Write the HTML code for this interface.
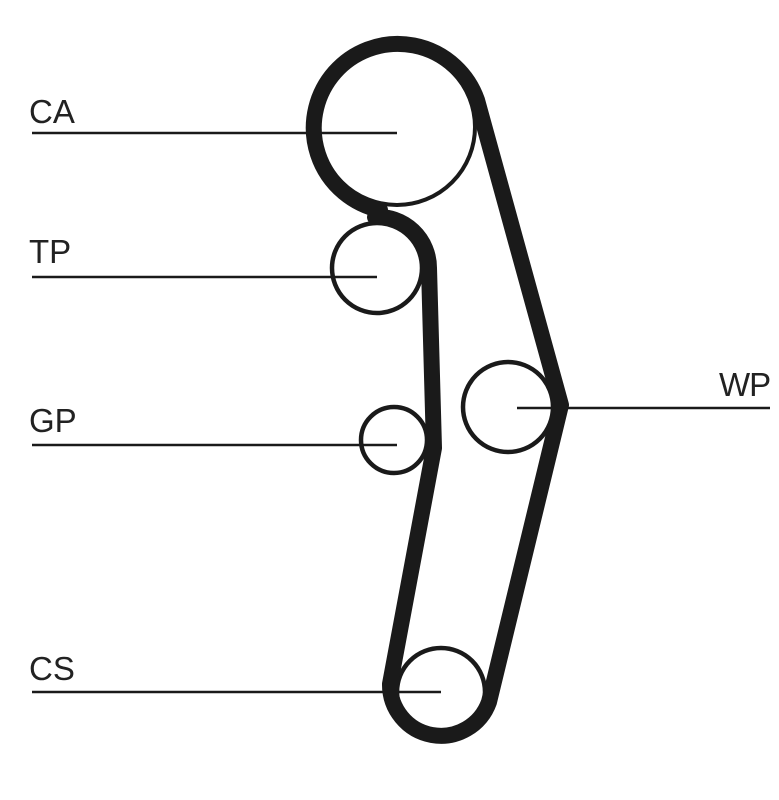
<!DOCTYPE html>
<html><head><meta charset="utf-8"><style>
html,body{margin:0;padding:0;background:#fff;}
svg{display:block;}
text{font-family:"Liberation Sans",sans-serif;font-size:33px;fill:#222;}
</style></head><body>
<svg width="779" height="800" viewBox="0 0 779 800" xmlns="http://www.w3.org/2000/svg">
<g stroke="#1a1a1a" fill="none">
<circle cx="397" cy="127" r="78" stroke-width="4"/>
<circle cx="377" cy="268" r="45" stroke-width="4.5"/>
<circle cx="394" cy="440" r="33" stroke-width="4.5"/>
<circle cx="508" cy="407" r="45" stroke-width="4.5"/>
<circle cx="441" cy="692" r="44" stroke-width="4.5"/>
<path d="M380,210 A84,84 0 1 1 477,100 L561,405 L489,702 A51,51 0 0 1 390,684 L434,448 L429,268 A51,51 0 0 0 375,217 Z" stroke-width="16" stroke-linejoin="round"/>
<g stroke-width="2.5">
<line x1="32" y1="133" x2="397" y2="133"/>
<line x1="32" y1="277" x2="377" y2="277"/>
<line x1="32" y1="445" x2="397" y2="445"/>
<line x1="32" y1="692" x2="441" y2="692"/>
<line x1="517" y1="408" x2="770" y2="408"/>
</g>
</g>
<text x="29" y="123">CA</text>
<text x="29" y="263">TP</text>
<text x="29" y="432">GP</text>
<text x="29" y="680">CS</text>
<text x="719" y="396" style="letter-spacing:-1px">WP</text>
</svg>
</body></html>
